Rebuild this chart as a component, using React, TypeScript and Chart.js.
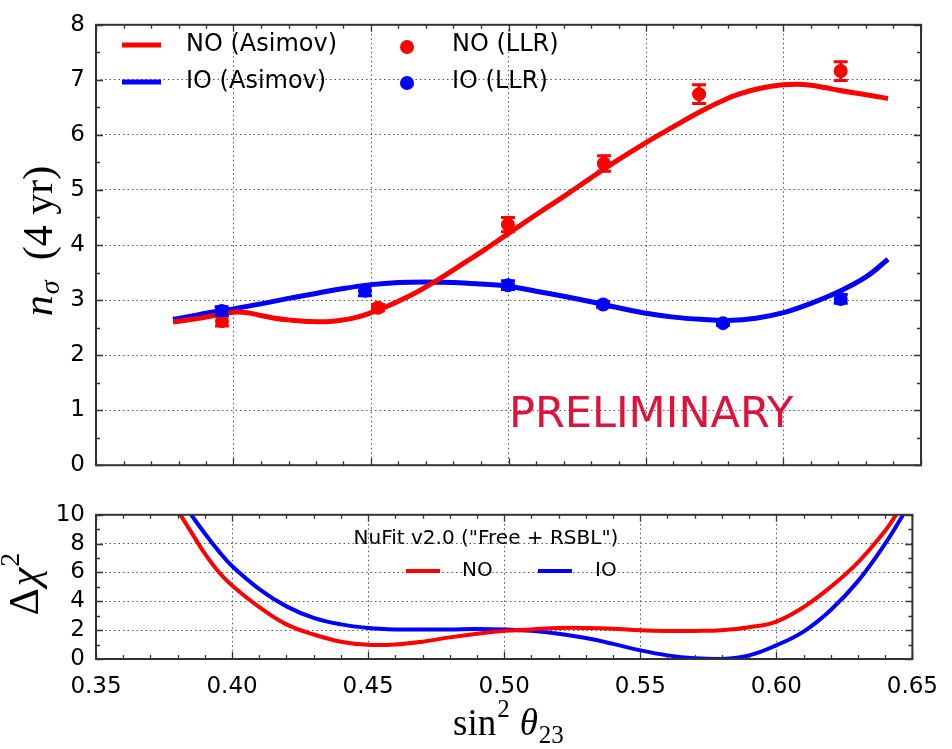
import React, { useEffect, useRef } from 'react';
import { Chart, registerables } from 'chart.js';
Chart.register(...registerables);

// ---------- data ----------
const X_TICKS = [0.35, 0.4, 0.45, 0.5, 0.55, 0.6, 0.65];
const TOP_Y_TICKS = [0, 1, 2, 3, 4, 5, 6, 7, 8];
const BOT_Y_TICKS = [0, 2, 4, 6, 8, 10];

const noAsimovX = [0.378, 0.385, 0.39, 0.395, 0.4, 0.405, 0.41, 0.415, 0.42, 0.428, 0.435, 0.44, 0.445, 0.45, 0.455, 0.46, 0.465, 0.47, 0.475, 0.48, 0.485, 0.49, 0.495, 0.5, 0.51, 0.52, 0.53, 0.54, 0.55, 0.56, 0.57, 0.58, 0.585, 0.59, 0.595, 0.6, 0.605, 0.61, 0.615, 0.62, 0.63, 0.638];
const noAsimovY = [2.6, 2.65, 2.69, 2.74, 2.78, 2.77, 2.72, 2.67, 2.64, 2.61, 2.61, 2.64, 2.69, 2.77, 2.87, 2.98, 3.1, 3.24, 3.39, 3.55, 3.71, 3.87, 4.04, 4.21, 4.55, 4.88, 5.22, 5.55, 5.86, 6.15, 6.43, 6.67, 6.76, 6.83, 6.88, 6.91, 6.92, 6.9, 6.86, 6.81, 6.73, 6.66];

const ioAsimovX = [0.378, 0.385, 0.39, 0.395, 0.4, 0.41, 0.42, 0.43, 0.44, 0.45, 0.46, 0.47, 0.48, 0.49, 0.5, 0.51, 0.52, 0.53, 0.54, 0.55, 0.56, 0.57, 0.58, 0.59, 0.6, 0.61, 0.62, 0.63, 0.638];
const ioAsimovY = [2.65, 2.71, 2.76, 2.8, 2.84, 2.93, 3.03, 3.12, 3.21, 3.28, 3.32, 3.33, 3.32, 3.29, 3.25, 3.16, 3.07, 2.97, 2.86, 2.76, 2.69, 2.65, 2.63, 2.67, 2.77, 2.94, 3.15, 3.42, 3.74];

const noLlrX = [0.3958, 0.4525, 0.4998, 0.5347, 0.5693, 0.6208];
const noLlrY = [2.62, 2.86, 4.37, 5.48, 6.74, 7.16];
const noLlrErr = [0.09, 0.06, 0.13, 0.14, 0.17, 0.17];

const ioLlrX = [0.3957, 0.4478, 0.4998, 0.5344, 0.578, 0.6208];
const ioLlrY = [2.8, 3.17, 3.27, 2.92, 2.58, 3.02];
const ioLlrErr = [0.08, 0.09, 0.08, 0.05, 0.04, 0.08];

const noChiX = [0.381, 0.385, 0.39, 0.395, 0.4, 0.41, 0.42, 0.43, 0.44, 0.45, 0.46, 0.47, 0.48, 0.49, 0.5, 0.51, 0.52, 0.53, 0.54, 0.55, 0.56, 0.57, 0.58, 0.59, 0.6, 0.61, 0.62, 0.63, 0.64, 0.644];
const noChiY = [10, 8.8, 7.3, 6.05, 5.1, 3.6, 2.4, 1.7, 1.2, 0.98, 1.0, 1.2, 1.5, 1.75, 1.95, 2.05, 2.15, 2.15, 2.1, 2.0, 1.95, 1.95, 2.0, 2.2, 2.6, 3.6, 5.0, 6.7, 8.9, 10];

const ioChiX = [0.385, 0.39, 0.395, 0.4, 0.41, 0.42, 0.43, 0.44, 0.45, 0.46, 0.47, 0.48, 0.49, 0.5, 0.51, 0.52, 0.53, 0.54, 0.55, 0.56, 0.57, 0.58, 0.59, 0.6, 0.61, 0.62, 0.63, 0.64, 0.6466];
const ioChiY = [10, 8.7, 7.5, 6.45, 4.85, 3.65, 2.85, 2.4, 2.15, 2.05, 2.05, 2.05, 2.08, 2.05, 1.95, 1.75, 1.45, 1.05, 0.6, 0.25, 0.05, 0.0, 0.25, 0.95, 1.9, 3.4, 5.4, 8.0, 10];

const RED = '#ff0000';
const BLUE = '#0000ff';
const SANS = 'DejaVu Sans';
const SERIF = 'Liberation Serif';

const pts = (xs: number[], ys: number[]) => xs.map((x, i) => ({ x, y: ys[i] }));

type Seg = { t: string; f: string; dy?: number; dx?: number };
function drawSegs(ctx: CanvasRenderingContext2D, segs: Seg[], x: number, y: number, center: boolean) {
  let w = 0;
  for (const s of segs) {
    ctx.font = s.f;
    w += ctx.measureText(s.t).width + (s.dx || 0);
  }
  let cx = center ? x - w / 2 : x;
  ctx.textAlign = 'left';
  ctx.textBaseline = 'alphabetic';
  ctx.fillStyle = '#000';
  for (const s of segs) {
    ctx.font = s.f;
    cx += s.dx || 0;
    ctx.fillText(s.t, cx, y + (s.dy || 0));
    cx += ctx.measureText(s.t).width;
  }
}

function frameAndTicks(chart: any, yMinorStep: number, yMin: number, yMax: number) {
  const ctx = chart.ctx as CanvasRenderingContext2D;
  const a = chart.chartArea;
  const xs = chart.scales.x;
  const ys = chart.scales.y;
  ctx.save();
  ctx.strokeStyle = '#333';
  ctx.lineWidth = 1.3;
  ctx.beginPath();
  for (let k = 0; k <= 30; k++) {
    const v = 0.35 + k * 0.01;
    const px = Math.round(xs.getPixelForValue(v)) + 0.5;
    const len = k % 5 === 0 ? 7 : 4;
    ctx.moveTo(px, a.top);
    ctx.lineTo(px, a.top + len);
    ctx.moveTo(px, a.bottom);
    ctx.lineTo(px, a.bottom - len);
  }
  const n = Math.round((yMax - yMin) / yMinorStep);
  for (let k = 0; k <= n; k++) {
    const v = yMin + k * yMinorStep;
    const py = Math.round(ys.getPixelForValue(v)) + 0.5;
    const len = k % 2 === 0 ? 7 : 4;
    ctx.moveTo(a.left, py);
    ctx.lineTo(a.left + len, py);
    ctx.moveTo(a.right, py);
    ctx.lineTo(a.right - len, py);
  }
  ctx.stroke();
  ctx.lineWidth = 2;
  ctx.strokeRect(a.left, a.top, a.right - a.left, a.bottom - a.top);
  ctx.restore();
}

function errorBars(chart: any, xsArr: number[], ysArr: number[], errs: number[], color: string) {
  const ctx = chart.ctx as CanvasRenderingContext2D;
  const xs = chart.scales.x;
  const ys = chart.scales.y;
  ctx.save();
  ctx.strokeStyle = color;
  ctx.lineWidth = 3;
  ctx.beginPath();
  xsArr.forEach((x, i) => {
    const px = xs.getPixelForValue(x);
    const top = ys.getPixelForValue(ysArr[i] + errs[i]);
    const bot = ys.getPixelForValue(ysArr[i] - errs[i]);
    ctx.moveTo(px, top);
    ctx.lineTo(px, bot);
    ctx.moveTo(px - 7, top);
    ctx.lineTo(px + 7, top);
    ctx.moveTo(px - 7, bot);
    ctx.lineTo(px + 7, bot);
  });
  ctx.stroke();
  ctx.restore();
}

const gridOpts = { color: '#555', lineWidth: 1, drawTicks: false, tickLength: 0 };
const borderOpts = { display: false, dash: [1.5, 3] };

const xScale = (showLabels: boolean, height: number) => ({
  type: 'linear',
  min: 0.35,
  max: 0.65,
  afterBuildTicks: (ax: any) => {
    ax.ticks = X_TICKS.map((v) => ({ value: v }));
  },
  afterFit: (ax: any) => {
    ax.height = height;
  },
  ticks: {
    display: showLabels,
    autoSkip: false,
    padding: 14,
    color: '#000',
    font: { family: SANS, size: 23 },
    callback: (v: any) => Number(v).toFixed(2),
    maxRotation: 0,
  },
  grid: gridOpts,
  border: borderOpts,
});

const yScale = (min: number, max: number, ticks: number[]) => ({
  type: 'linear',
  min,
  max,
  afterBuildTicks: (ax: any) => {
    ax.ticks = ticks.map((v) => ({ value: v }));
  },
  afterFit: (ax: any) => {
    ax.width = 96;
  },
  ticks: {
    autoSkip: false,
    padding: 11,
    color: '#000',
    font: { family: SANS, size: 23 },
    callback: (v: any) => String(v),
  },
  grid: gridOpts,
  border: borderOpts,
});

const curve = (label: string, xs: number[], ys: number[], color: string, width: number) => ({
  label,
  data: pts(xs, ys),
  borderColor: color,
  borderWidth: width,
  pointRadius: 0,
  tension: 0.4,
  fill: false,
  borderCapStyle: 'butt',
  borderJoinStyle: 'round',
});

export default function App() {
  const topRef = useRef<HTMLCanvasElement>(null);
  const botRef = useRef<HTMLCanvasElement>(null);

  useEffect(() => {
    const topPlugin = {
      id: 'topDecor',
      afterDatasetsDraw(chart: any) {
        errorBars(chart, noLlrX, noLlrY, noLlrErr, RED);
        errorBars(chart, ioLlrX, ioLlrY, ioLlrErr, BLUE);
      },
      afterDraw(chart: any) {
        const ctx = chart.ctx as CanvasRenderingContext2D;
        frameAndTicks(chart, 0.5, 0, 8);
        ctx.save();
        // legend
        ctx.lineWidth = 5;
        ctx.strokeStyle = RED;
        ctx.beginPath();
        ctx.moveTo(122, 45);
        ctx.lineTo(161, 45);
        ctx.stroke();
        ctx.strokeStyle = BLUE;
        ctx.beginPath();
        ctx.moveTo(122, 82);
        ctx.lineTo(161, 82);
        ctx.stroke();
        ctx.fillStyle = RED;
        ctx.beginPath();
        ctx.arc(407, 47, 7, 0, Math.PI * 2);
        ctx.fill();
        ctx.fillStyle = BLUE;
        ctx.beginPath();
        ctx.arc(407, 83, 7, 0, Math.PI * 2);
        ctx.fill();
        ctx.fillStyle = '#000';
        ctx.font = `24px ${SANS}`;
        ctx.textAlign = 'left';
        ctx.textBaseline = 'middle';
        ctx.fillText('NO (Asimov)', 186, 45);
        ctx.fillText('IO (Asimov)', 186, 82);
        ctx.fillText('NO (LLR)', 452, 45);
        ctx.fillText('IO (LLR)', 452, 82);
        // preliminary
        ctx.fillStyle = '#dc143c';
        ctx.font = `43px ${SANS}`;
        ctx.textBaseline = 'alphabetic';
        ctx.fillText('PRELIMINARY', 509, 427);
        // y title
        ctx.translate(52, 241);
        ctx.rotate(-Math.PI / 2);
        drawSegs(
          ctx,
          [
            { t: 'n', f: `italic 42px ${SERIF}` },
            { t: 'σ', f: `italic 28px ${SERIF}`, dy: 7, dx: 1 },
            { t: '(4 yr)', f: `42px ${SERIF}`, dx: 20 },
          ],
          0,
          0,
          true
        );
        ctx.restore();
      },
    };

    const botPlugin = {
      id: 'botDecor',
      afterDraw(chart: any) {
        const ctx = chart.ctx as CanvasRenderingContext2D;
        frameAndTicks(chart, 1, 0, 10);
        ctx.save();
        ctx.fillStyle = '#000';
        ctx.font = `20px ${SANS}`;
        ctx.textAlign = 'center';
        ctx.textBaseline = 'middle';
        ctx.fillText('NuFit v2.0 ("Free + RSBL")', 486, 49);
        ctx.lineWidth = 4;
        ctx.strokeStyle = RED;
        ctx.beginPath();
        ctx.moveTo(406, 81);
        ctx.lineTo(440, 81);
        ctx.stroke();
        ctx.strokeStyle = BLUE;
        ctx.beginPath();
        ctx.moveTo(538, 81);
        ctx.lineTo(572, 81);
        ctx.stroke();
        ctx.textAlign = 'left';
        ctx.fillText('NO', 462, 81);
        ctx.fillText('IO', 595, 81);
        // x title
        drawSegs(
          ctx,
          [
            { t: 'sin', f: `37px ${SERIF}` },
            { t: '2', f: `25px ${SERIF}`, dy: -18, dx: 1 },
            { t: 'θ', f: `italic 37px ${SERIF}`, dx: 10 },
            { t: '23', f: `25px ${SERIF}`, dy: 8, dx: 1 },
          ],
          453,
          245,
          false
        );
        // y title
        ctx.translate(38, 94);
        ctx.rotate(-Math.PI / 2);
        drawSegs(
          ctx,
          [
            { t: 'Δ', f: `42px ${SERIF}` },
            { t: 'χ', f: `italic 42px ${SERIF}`, dx: 2 },
            { t: '2', f: `28px ${SERIF}`, dy: -19, dx: 1 },
          ],
          0,
          0,
          true
        );
        ctx.restore();
      },
    };

    const top = new Chart(topRef.current as HTMLCanvasElement, {
      type: 'line',
      data: {
        datasets: [
          { label: 'NO (LLR)', data: pts(noLlrX, noLlrY), showLine: false, pointRadius: 7, pointBackgroundColor: RED, pointBorderWidth: 0, borderColor: RED, backgroundColor: RED },
          { label: 'IO (LLR)', data: pts(ioLlrX, ioLlrY), showLine: false, pointRadius: 7, pointBackgroundColor: BLUE, pointBorderWidth: 0, borderColor: BLUE, backgroundColor: BLUE },
          curve('NO (Asimov)', noAsimovX, noAsimovY, RED, 5),
          curve('IO (Asimov)', ioAsimovX, ioAsimovY, BLUE, 5),
        ],
      } as any,
      options: {
        responsive: false,
        animation: false,
        events: [],
        layout: { padding: { left: 0, right: 31, top: 14, bottom: 0 } },
        plugins: { legend: { display: false }, tooltip: { enabled: false } },
        scales: {
          x: xScale(false, 20),
          y: yScale(0, 8, TOP_Y_TICKS),
        } as any,
      },
      plugins: [topPlugin],
    });

    const bot = new Chart(botRef.current as HTMLCanvasElement, {
      type: 'line',
      data: {
        datasets: [
          curve('NO', noChiX, noChiY, RED, 4),
          curve('IO', ioChiX, ioChiY, BLUE, 4),
        ],
      } as any,
      options: {
        responsive: false,
        animation: false,
        events: [],
        layout: { padding: { left: 0, right: 31, top: 17, bottom: 0 } },
        plugins: { legend: { display: false }, tooltip: { enabled: false } },
        scales: {
          x: xScale(true, 90),
          y: yScale(0, 10, BOT_Y_TICKS),
        } as any,
      },
      plugins: [botPlugin],
    });

    return () => {
      top.destroy();
      bot.destroy();
    };
  }, []);

  return (
    <div style={{ position: 'absolute', left: 0, top: 0, width: 952, height: 749, background: '#fff' }}>
      <canvas ref={topRef} width={952} height={490} style={{ position: 'absolute', left: 0, top: 0, width: 952, height: 490 }} />
      <canvas ref={botRef} width={952} height={259} style={{ position: 'absolute', left: 0, top: 490, width: 952, height: 259 }} />
    </div>
  );
}
